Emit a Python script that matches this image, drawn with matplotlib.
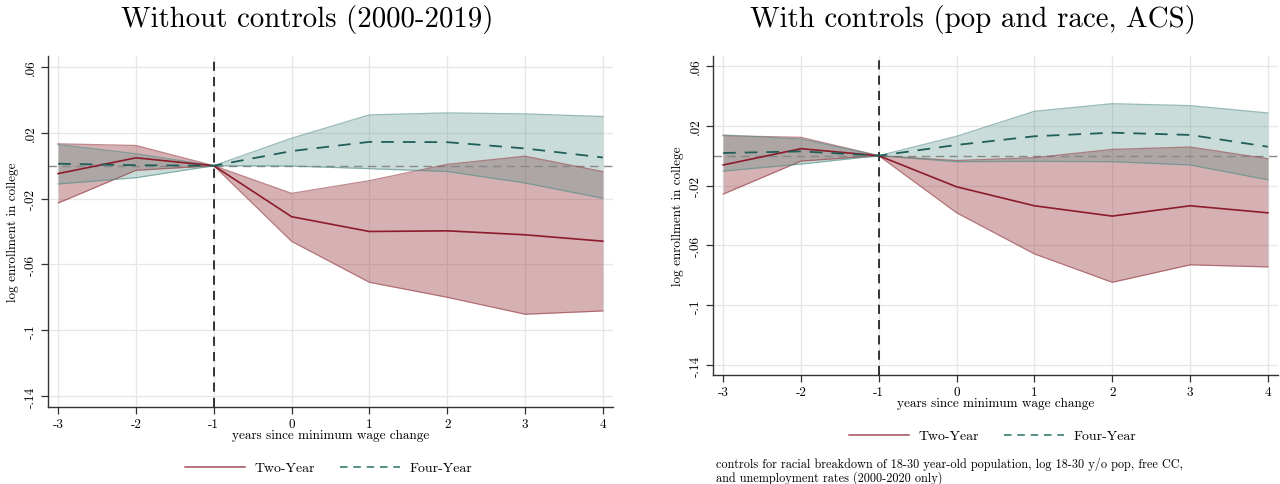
import matplotlib
matplotlib.use("Agg")
import matplotlib.pyplot as plt
from matplotlib.lines import Line2D

plt.rcParams["font.family"] = ["cmr10", "DejaVu Serif"]
plt.rcParams["axes.unicode_minus"] = False
plt.rcParams["mathtext.fontset"] = "cm"

years = [-3, -2, -1, 0, 1, 2, 3, 4]
xticklabels = ["-3", "-2", "-1", "0", "1", "2", "3", "4"]
yticks = [0.06, 0.02, -0.02, -0.06, -0.1, -0.14]
yticklabels = [".06", ".02", "-.02", "-.06", "-.1", "-.14"]

# without controls
two_nc = [-0.0048, 0.0048, 0.0, -0.031, -0.040, -0.0396, -0.042, -0.0459]
two_nc_hi = [0.0133, 0.0123, 0.0, -0.0168, -0.0091, 0.0008, 0.0058, -0.0036]
two_nc_lo = [-0.0227, -0.0028, 0.0, -0.046, -0.0709, -0.080, -0.0903, -0.0883]
four_nc = [0.0012, 0.0003, 0.0, 0.0089, 0.0145, 0.0143, 0.0105, 0.005]
four_nc_hi = [0.0129, 0.0073, 0.0, 0.0167, 0.0309, 0.0321, 0.0315, 0.0299]
four_nc_lo = [-0.0111, -0.0073, 0.0, -0.0002, -0.0018, -0.0035, -0.0105, -0.0198]

# with controls
two_c = [-0.0062, 0.0047, 0.0, -0.0208, -0.0335, -0.0404, -0.0335, -0.0382]
two_c_hi = [0.0134, 0.0123, 0.0, -0.0032, -0.0013, 0.0042, 0.0058, -0.002]
two_c_lo = [-0.0257, -0.0036, 0.0, -0.0382, -0.0657, -0.0847, -0.073, -0.0744]
four_c = [0.0018, 0.0029, 0.0, 0.0072, 0.013, 0.0154, 0.0139, 0.006]
four_c_hi = [0.0139, 0.0112, 0.0, 0.013, 0.0297, 0.0348, 0.0335, 0.0286]
four_c_lo = [-0.0103, -0.0056, 0.0, -0.004, -0.0038, -0.004, -0.0062, -0.0161]

red = "#8c1c2b"
red_fill = "#963c43"
teal = "#1f5f58"
teal_fill = "#528e87"


def draw(ax, two, two_hi, two_lo, four, four_hi, four_lo):
    ax.fill_between(years, two_lo, two_hi, color=red_fill, alpha=0.4, lw=0)
    ax.plot(years, two_hi, color=red_fill, alpha=0.6, lw=0.9)
    ax.plot(years, two_lo, color=red_fill, alpha=0.6, lw=0.9)
    ax.fill_between(years, four_lo, four_hi, color=teal_fill, alpha=0.3, lw=0)
    ax.plot(years, four_hi, color=teal_fill, alpha=0.6, lw=0.9)
    ax.plot(years, four_lo, color=teal_fill, alpha=0.6, lw=0.9)
    ax.axhline(0, color="#888888", lw=1.0, ls=(0, (6, 4)), zorder=1)
    ax.axvline(-1, color="black", lw=1.1, ls=(0, (6, 4)), zorder=4)
    ax.plot(years, two, color=red, lw=1.2, zorder=5)
    ax.plot(years, four, color=teal, lw=1.3, ls=(0, (7, 5)), zorder=5)

    ax.set_xlim(-3.13, 4.13)
    ax.set_ylim(-0.1467, 0.0667)
    ax.set_xticks(years)
    ax.set_xticklabels(xticklabels, fontsize=9.5)
    ax.set_yticks(yticks)
    ax.set_yticklabels(yticklabels, fontsize=9.5, rotation=90, va="center")
    ax.grid(True, color="#e6e6e6", lw=0.9)
    ax.set_axisbelow(True)
    for s in ["top", "right"]:
        ax.spines[s].set_visible(False)
    for s in ["left", "bottom"]:
        ax.spines[s].set_color("#333333")
        ax.spines[s].set_linewidth(1.0)
    ax.tick_params(direction="out", length=5, width=0.9, color="#333333", pad=3)
    ax.set_ylabel("log enrollment in college", fontsize=9.5, labelpad=4)
    ax.set_xlabel("years since minimum wage change", fontsize=9.5, labelpad=-1)


fig = plt.figure(figsize=(12.8, 4.85), dpi=100)
ax1 = fig.add_axes([48 / 1280, 77 / 485, 565 / 1280, 351 / 485])
ax2 = fig.add_axes([713 / 1280, 109 / 485, 565 / 1280, 319 / 485])

draw(ax1, two_nc, two_nc_hi, two_nc_lo, four_nc, four_nc_hi, four_nc_lo)
draw(ax2, two_c, two_c_hi, two_c_lo, four_c, four_c_hi, four_c_lo)

fig.text(307 / 1280, 1 - 20 / 485, "Without controls (2000-2019)", fontsize=20.8,
         ha="center", va="center")
fig.text(973 / 1280, 1 - 20 / 485, "With controls (pop and race, ACS)", fontsize=20.8,
         ha="center", va="center")

handles = [Line2D([], [], color="#a4505a", lw=1.1),
           Line2D([], [], color="#3b7a73", lw=1.2, ls=(0, (4.5, 3.5)))]
labels = ["Two-Year", "Four-Year"]
for cx, cy in [(329, 469), (993, 437)]:
    fig.legend(handles, labels, loc="center", bbox_to_anchor=(cx / 1280, 1 - cy / 485),
               ncol=2, frameon=False, fontsize=10, handlelength=4.3,
               columnspacing=1.8, handletextpad=0.7)

fig.text(716 / 1280, 1 - 471 / 485,
         "controls for racial breakdown of 18-30 year-old population, log 18-30 y/o pop, free CC,\n"
         "and unemployment rates (2000-2020 only)",
         fontsize=8.8, ha="left", va="center", linespacing=1.0)

fig.savefig("out.png", dpi=100)
